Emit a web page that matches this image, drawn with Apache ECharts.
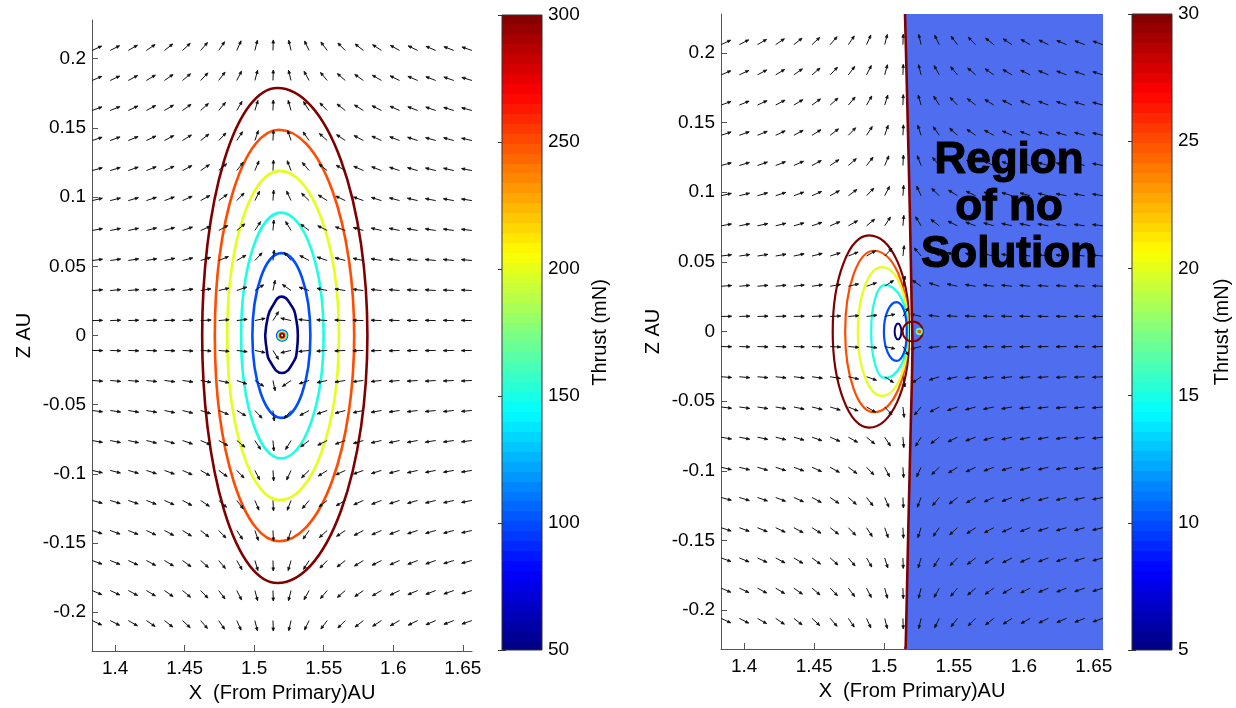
<!DOCTYPE html>
<html><head><meta charset="utf-8">
<script src="https://cdn.jsdelivr.net/npm/echarts@6/dist/echarts.min.js"></script>
<style>html,body{margin:0;padding:0;background:#fff}#c{width:1236px;height:708px}</style>
</head><body><div id="c"></div>
<script>
// ---------- axes ----------
const xRange = [1.3834, 1.6566];
const zRange = [-0.228, 0.228];
const xTicks = [1.4, 1.45, 1.5, 1.55, 1.6, 1.65];
const zTicks = [-0.2, -0.15, -0.1, -0.05, 0, 0.05, 0.1, 0.15, 0.2];
const cbLeftRange = [50, 300];
const cbRightRange = [5, 30];
const cbLeftTicks = [50, 100, 150, 200, 250, 300];
const cbRightTicks = [5, 10, 15, 20, 25, 30];

// ---------- quiver grid (direction angles in degrees) ----------
const quiverX = [1.3835,1.3965,1.4095,1.4225,1.4355,1.4485,1.4615,1.4745,1.4875,1.5005,1.5135,1.5265,1.5395,1.5525,1.5655,1.5785,1.5915,1.6045,1.6175,1.6305,1.6435,1.6565];
const quiverZ = [0.2060,0.1843,0.1626,0.1409,0.1192,0.0975,0.0759,0.0542,0.0325,0.0108,-0.0108,-0.0325,-0.0542,-0.0759,-0.0975,-0.1192,-0.1409,-0.1626,-0.1843,-0.2060];
const quiverAngles = [
[25,27,30,34,38,43,49,56,66,76,88,103,116,127,135,142,147,151,154,157,159,161],
[23,25,28,31,35,40,46,53,63,75,88,104,119,130,139,145,150,154,157,159,161,163],
[20,22,25,28,31,36,42,50,60,73,88,106,122,134,142,148,153,156,159,161,163,165],
[18,20,22,25,28,32,38,46,57,71,87,108,125,138,146,152,156,159,162,164,165,167],
[15,17,19,21,24,28,34,41,52,67,87,111,130,142,150,156,159,162,164,166,167,169],
[13,14,16,18,20,24,29,36,46,63,86,115,136,148,155,160,163,165,167,169,170,171],
[10,11,12,14,16,19,23,29,39,57,85,121,143,154,160,164,167,168,170,171,172,173],
[7,8,9,10,12,14,17,22,30,47,83,130,152,161,165,168,170,172,173,174,174,175],
[4,5,5,6,7,8,10,13,19,33,78,145,162,168,171,173,174,175,176,176,177,177],
[1,2,2,2,2,3,3,5,7,12,58,167,174,176,177,178,178,178,179,179,179,179],
[-1,-2,-2,-2,-2,-3,-3,-5,-7,-12,-58,-167,-174,-176,-177,-178,-178,-178,-179,-179,-179,-179],
[-4,-5,-5,-6,-7,-8,-10,-13,-19,-33,-78,-145,-162,-168,-171,-173,-174,-175,-176,-176,-177,-177],
[-7,-8,-9,-10,-12,-14,-17,-22,-30,-47,-83,-130,-152,-161,-165,-168,-170,-172,-173,-174,-174,-175],
[-10,-11,-12,-14,-16,-19,-23,-29,-39,-57,-85,-121,-143,-154,-160,-164,-167,-168,-170,-171,-172,-173],
[-13,-14,-16,-18,-20,-24,-29,-36,-46,-63,-86,-115,-136,-148,-155,-160,-163,-165,-167,-169,-170,-171],
[-15,-17,-19,-21,-24,-28,-34,-41,-52,-67,-87,-111,-130,-142,-150,-156,-159,-162,-164,-166,-167,-169],
[-18,-20,-22,-25,-28,-32,-38,-46,-57,-71,-87,-108,-125,-138,-146,-152,-156,-159,-162,-164,-165,-167],
[-20,-22,-25,-28,-31,-36,-42,-50,-60,-73,-88,-106,-122,-134,-142,-148,-153,-156,-159,-161,-163,-165],
[-23,-25,-28,-31,-35,-40,-46,-53,-63,-75,-88,-104,-119,-130,-139,-145,-150,-154,-157,-159,-161,-163],
[-25,-27,-30,-34,-38,-43,-49,-56,-66,-76,-88,-103,-116,-127,-135,-142,-147,-151,-154,-157,-159,-161]
];

// ---------- left panel contours (thrust levels, mN) ----------
// oval contours: [x at left extreme, x at top/bottom, x at right extreme, half-height z, level]
const leftOvals = [
  [1.4626, 1.5167, 1.5814, 0.1789, 300],
  [1.4717, 1.5177, 1.5719, 0.1487, 250],
  [1.4806, 1.5184, 1.5609, 0.1190, 200],
  [1.4906, 1.5192, 1.5499, 0.0888, 150],
  [1.4987, 1.5196, 1.5404, 0.0595, 100]
];
const leftLevel50 = 50;
const leftC50 = [[1.5079,0],[1.5098,0.0132],[1.5127,0.0204],[1.5196,0.0281],[1.5275,0.0204],[1.5299,0.0132],[1.5314,0],[1.5307,-0.0108],[1.5289,-0.0180],[1.5199,-0.0271],[1.5110,-0.0180],[1.5091,-0.0108],[1.5079,0]];
// tiny rings at the singular point: [cx, cz, rx, rz, level]
const leftRings = [[1.5201,0,0.0039,0.0039,100],[1.5201,0,0.0032,0.0032,150],[1.5201,0,0.0025,0.0025,200],[1.5201,0,0.0019,0.0019,250],[1.5201,0,0.0013,0.0013,300]];

// ---------- right panel contours ----------
// D-shaped contours: [x at left extreme, x at top, z at top, x at pinch, z at pinch, level]
const rightDs = [
  [1.4633, 1.4893, 0.0690, 1.5178, 0.0060, 30],
  [1.4722, 1.4927, 0.0580, 1.5170, 0.0045, 25],
  [1.4812, 1.4985, 0.0462, 1.5170, 0.0035, 20],
  [1.4908, 1.5004, 0.0335, 1.5168, 0.0028, 15],
  [1.4999, 1.5090, 0.0211, 1.5162, 0.0019, 10]
];
const rightRings = [[1.5100,0,0.0024,0.0057,5],[1.5205,0,0.0072,0.0072,30],[1.5252,0,0.0019,0.0019,15],[1.5252,0,0.0013,0.0013,20],[1.5252,0,0.0008,0.0008,25]];
// boundary of the region with no solution
const boundaryX = [1.5150,1.5167,1.5184,1.5198,1.5203,1.5191,1.5174,1.5155,1.5151];
const boundaryZ = [0.228,0.1607,0.0889,0.0170,-0.0103,-0.0677,-0.1396,-0.2258,-0.228];
const boundaryLevel = 30;
const regionText = ['Region', 'of no', 'Solution'];

// ---------- helpers ----------
const FONT = '"Liberation Sans", Arial, Helvetica, sans-serif';
function jet(t){
  const c = v => Math.round(255 * Math.max(0, Math.min(1, v)));
  return 'rgb(' + c(1.5 - Math.abs(4*t - 3)) + ',' + c(1.5 - Math.abs(4*t - 2)) + ',' + c(1.5 - Math.abs(4*t - 1)) + ')';
}
function levelColor(level, range){ return jet((level - range[0]) / (range[1] - range[0])); }
const fmt = v => String(parseFloat((+v).toFixed(3)));

const chart = echarts.init(document.getElementById('c'));

const grids = [
  {left: 92, top: 20, width: 380, height: 633},
  {left: 721, top: 14, width: 382, height: 635},
  {left: 502, top: 15, width: 40, height: 635},
  {left: 1132, top: 14, width: 40, height: 636}
];

function mainX(gi){
  return {type:'value', gridIndex:gi, min:xRange[0], max:xRange[1],
    name:'X  (From Primary)AU', nameLocation:'middle', nameGap:32,
    nameTextStyle:{fontSize:20, color:'#000', fontFamily:FONT},
    axisLine:{show:true, onZero:false, lineStyle:{color:'#555', width:1}},
    axisTick:{show:true, inside:true, length:6, customValues:xTicks, lineStyle:{color:'#555'}},
    axisLabel:{customValues:xTicks, formatter:fmt, fontSize:19, color:'#000', margin:8, fontFamily:FONT},
    splitLine:{show:false}};
}
function mainY(gi){
  return {type:'value', gridIndex:gi, min:zRange[0], max:zRange[1],
    name:'Z AU', nameLocation:'middle', nameGap:58, nameRotate:90,
    nameTextStyle:{fontSize:20, color:'#000', fontFamily:FONT},
    axisLine:{show:true, onZero:false, lineStyle:{color:'#555', width:1}},
    axisTick:{show:true, inside:true, length:6, customValues:zTicks, lineStyle:{color:'#555'}},
    axisLabel:{customValues:zTicks, formatter:fmt, fontSize:19, color:'#000', margin:6, fontFamily:FONT},
    splitLine:{show:false}};
}
function cbX(gi){ return {type:'value', gridIndex:gi, min:0, max:1, show:false}; }
function cbY(gi, range, ticks, pos, gap){
  const step = ticks[1] - ticks[0];
  return {type:'value', gridIndex:gi, min:range[0], max:range[1], interval:step, position:pos,
    name: pos === 'right' ? 'Thrust (mN)' : '', nameLocation:'middle', nameRotate:90, nameGap:gap,
    nameTextStyle:{fontSize:20, color:'#000', fontFamily:FONT},
    axisLine:{show:false},
    axisTick:{show:true, inside:true, length:4, lineStyle:{color:'#333'}},
    axisLabel:{show: pos === 'right', fontSize:19, color:'#000', margin:6, fontFamily:FONT},
    splitLine:{show:false}};
}

function quiverData(){
  const d = [];
  quiverZ.forEach((z, j) => quiverX.forEach((x, i) => d.push([x, z, quiverAngles[j][i]])));
  return d;
}
function quiverRender(params, api){
  const a = api.value(2) * Math.PI / 180;
  const p = api.coord([api.value(0), api.value(1)]);
  const L = 10.5, h = 3.5, w = 0.42;
  const ex = p[0] + L * Math.cos(a), ey = p[1] - L * Math.sin(a);
  const b = a + Math.PI;
  const h1 = [ex + h * Math.cos(b + w), ey - h * Math.sin(b + w)];
  const h2 = [ex + h * Math.cos(b - w), ey - h * Math.sin(b - w)];
  return {type:'group', children:[
    {type:'line', shape:{x1:p[0], y1:p[1], x2:ex, y2:ey}, style:{stroke:'#111', lineWidth:1}},
    {type:'polygon', shape:{points:[h1, [ex, ey], h2]}, style:{stroke:'#111', fill:'#111', lineWidth:0.6}}
  ]};
}
function ringRender(range, width){
  return function(params, api){
    const c = api.coord([api.value(0), api.value(1)]);
    const s = api.size([api.value(2), api.value(3)], [api.value(0), api.value(1)]);
    const rx = s[0], ry = s[1];
    const d = 'M' + (c[0]-rx) + ' ' + c[1] + ' A' + rx + ' ' + ry + ' 0 1 0 ' + (c[0]+rx) + ' ' + c[1] +
              ' A' + rx + ' ' + ry + ' 0 1 0 ' + (c[0]-rx) + ' ' + c[1] + ' Z';
    return {type:'path', shape:{pathData:d}, style:{fill:null, stroke:levelColor(api.value(4), range), lineWidth:width}};
  };
}
// oval made of two half-ellipses (left and right of the top point)
function ovalRender(range, width){
  return function(params, api){
    const xl = api.value(0), xt = api.value(1), xr = api.value(2), zh = api.value(3);
    const T = api.coord([xt, zh]), B = api.coord([xt, -zh]);
    const Lp = api.coord([xl, 0]), Rp = api.coord([xr, 0]);
    const rxL = T[0] - Lp[0], rxR = Rp[0] - T[0], ry = (B[1] - T[1]) / 2;
    const d = 'M' + T[0] + ' ' + T[1] +
      ' A' + rxL + ' ' + ry + ' 0 0 0 ' + Lp[0] + ' ' + Lp[1] +
      ' A' + rxL + ' ' + ry + ' 0 0 0 ' + B[0] + ' ' + B[1] +
      ' A' + rxR + ' ' + ry + ' 0 0 0 ' + Rp[0] + ' ' + Rp[1] +
      ' A' + rxR + ' ' + ry + ' 0 0 0 ' + T[0] + ' ' + T[1] + ' Z';
    return {type:'path', shape:{pathData:d}, style:{fill:null, stroke:levelColor(api.value(4), range), lineWidth:width}};
  };
}
// D-shaped contour pinched at the boundary
function dRender(range, width){
  return function(params, api){
    const xl = api.value(0), xt = api.value(1), zt = api.value(2), xp = api.value(3), zp = api.value(4);
    const P1 = api.coord([xp, zp]), T = api.coord([xt, zt]), Lp = api.coord([xl, 0]);
    const B = api.coord([xt, -zt]), P2 = api.coord([xp, -zp]);
    const rxR = P1[0] - T[0], ryR = P1[1] - T[1];
    const rxL = T[0] - Lp[0], ryL = Lp[1] - T[1];
    const d = 'M' + P1[0] + ' ' + P1[1] +
      ' A' + rxR + ' ' + ryR + ' 0 0 0 ' + T[0] + ' ' + T[1] +
      ' A' + rxL + ' ' + ryL + ' 0 0 0 ' + Lp[0] + ' ' + Lp[1] +
      ' A' + rxL + ' ' + ryL + ' 0 0 0 ' + B[0] + ' ' + B[1] +
      ' A' + rxR + ' ' + ryR + ' 0 0 0 ' + P2[0] + ' ' + P2[1] + ' Z';
    return {type:'path', shape:{pathData:d}, style:{fill:null, stroke:levelColor(api.value(5), range), lineWidth:width}};
  };
}
function colorbarRender(range){
  return function(params, api){
    const p0 = api.coord([0, range[1]]);
    const p1 = api.coord([1, range[0]]);
    const stops = [];
    const n = 64;
    for (let i = 0; i < n; i++){
      const col = jet((i + 0.5) / n);
      stops.push({offset:i / n, color:col}, {offset:(i + 1) / n, color:col});
    }
    return {type:'rect', shape:{x:p0[0], y:p0[1], width:p1[0]-p0[0], height:p1[1]-p0[1]},
      style:{fill:new echarts.graphic.LinearGradient(0, 1, 0, 0, stops), stroke:'#333', lineWidth:1}};
  };
}
function regionRender(params, api){
  if (params.dataIndex !== 0) return null;
  const pts = boundaryX.map((x, i) => api.coord([x, boundaryZ[i]]));
  pts.push(api.coord([xRange[1], zRange[0]]));
  pts.push(api.coord([xRange[1], zRange[1]]));
  return {type:'polygon', shape:{points:pts, smooth:0}, style:{fill:'#4F6EEF', stroke:null}};
}
function contourLine(pts, level, range, gi, width){
  return {type:'line', xAxisIndex:gi, yAxisIndex:gi, data:pts, smooth:0.5, showSymbol:false, symbol:'none',
    silent:true, z:3, lineStyle:{color:levelColor(level, range), width:width}};
}

const series = [];
// right panel blue region
series.push({type:'custom', xAxisIndex:1, yAxisIndex:1, renderItem:regionRender,
  data:boundaryX.map((x, i) => [x, boundaryZ[i]]), z:1, silent:true});
series.push({type:'custom', xAxisIndex:0, yAxisIndex:0, renderItem:ovalRender(cbLeftRange, 2.6), data:leftOvals, z:3, silent:true});
series.push(contourLine(leftC50, leftLevel50, cbLeftRange, 0, 2.6));
series.push({type:'custom', xAxisIndex:1, yAxisIndex:1, renderItem:dRender(cbRightRange, 2.2), data:rightDs, z:3, silent:true});
series.push({type:'custom', xAxisIndex:0, yAxisIndex:0, renderItem:ringRender(cbLeftRange, 1.7), data:leftRings, z:3, silent:true});
series.push({type:'custom', xAxisIndex:1, yAxisIndex:1, renderItem:ringRender(cbRightRange, 2), data:rightRings, z:3, silent:true});
// quiver
series.push({type:'custom', xAxisIndex:0, yAxisIndex:0, renderItem:quiverRender, data:quiverData(), z:4, silent:true});
series.push({type:'custom', xAxisIndex:1, yAxisIndex:1, renderItem:quiverRender, data:quiverData(), z:4, silent:true});
// boundary line
series.push({type:'line', xAxisIndex:1, yAxisIndex:1, data:boundaryX.map((x, i) => [x, boundaryZ[i]]),
  smooth:0.3, showSymbol:false, symbol:'none', silent:true, z:5,
  lineStyle:{color:levelColor(boundaryLevel, cbRightRange), width:2.6}});
// colorbars
series.push({type:'custom', xAxisIndex:2, yAxisIndex:2, renderItem:colorbarRender(cbLeftRange), data:[[0, cbLeftRange[0]]], silent:true});
series.push({type:'custom', xAxisIndex:3, yAxisIndex:4, renderItem:colorbarRender(cbRightRange), data:[[0, cbRightRange[0]]], silent:true});

chart.setOption({
  animation:false,
  backgroundColor:'#fff',
  textStyle:{fontFamily:FONT},
  grid:grids,
  xAxis:[mainX(0), mainX(1), cbX(2), cbX(3)],
  yAxis:[mainY(0), mainY(1),
    cbY(2, cbLeftRange, cbLeftTicks, 'right', 48), cbY(2, cbLeftRange, cbLeftTicks, 'left', 0),
    cbY(3, cbRightRange, cbRightTicks, 'right', 40), cbY(3, cbRightRange, cbRightTicks, 'left', 0)],
  series:series,
  graphic: regionText.map((t, i) => ({type:'text', x:1009, y:161 + i * 47, z:10,
    style:{text:t, fill:'#000', stroke:'#000', lineWidth:1.2, font:'bold 44px "Liberation Sans", Arial, sans-serif', align:'center', verticalAlign:'middle'}}))
});
</script>
</body></html>
